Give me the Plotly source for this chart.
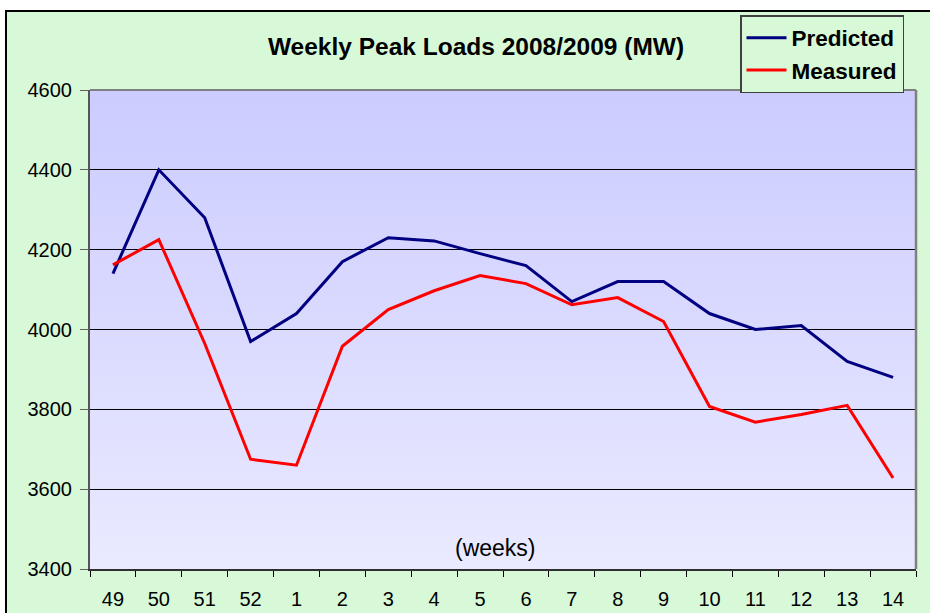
import plotly.graph_objects as go

categories = ["49", "50", "51", "52", "1", "2", "3", "4", "5", "6", "7", "8", "9", "10", "11", "12", "13", "14"]
predicted = [4140, 4400, 4280, 3970, 4040, 4170, 4230, 4222, 4190, 4160, 4070, 4120, 4120, 4040, 4000, 4010, 3920, 3880]
measured = [4162, 4225, 3965, 3675, 3660, 3958, 4050, 4097, 4135, 4115, 4062, 4080, 4020, 3807, 3768, 3787, 3810, 3628]
y_ticks = [3400, 3600, 3800, 4000, 4200, 4400, 4600]

W, H = 930, 613
L, R, T, B = 90, 14, 90, 44
pw, ph = W - L - R, H - T - B


def px(x):
    return (x - L) / pw


def py(y):
    return (H - B - y) / ph


fig = go.Figure()
fig.add_trace(go.Scatter(x=categories, y=predicted, mode="lines", name="Predicted",
                         line=dict(color="#000080", width=3), legendgroup="a"))
fig.add_trace(go.Scatter(x=categories, y=measured, mode="lines", name="Measured",
                         line=dict(color="#FF0000", width=3), legendgroup="b"))

shapes = []
green = "#D8F9D8"
shapes.append(dict(type="rect", xref="paper", yref="paper", x0=px(6), x1=px(960), y0=py(11), y1=py(650),
                   fillcolor=green, line=dict(color="black", width=2), layer="below"))
n = 60
top = (204, 204, 255)
bot = (233, 233, 255)
for i in range(n):
    f = i / (n - 1)
    c = tuple(round(top[k] + (bot[k] - top[k]) * f) for k in range(3))
    y1 = 1 - i / n
    y0 = 1 - (i + 1) / n - 0.002
    shapes.append(dict(type="rect", xref="paper", yref="paper", x0=0, x1=1, y0=max(y0, 0), y1=y1,
                       fillcolor="rgb(%d,%d,%d)" % c, line=dict(width=0), layer="below"))
shapes.append(dict(type="line", xref="paper", yref="paper", x0=0, x1=1, y0=1, y1=1,
                   line=dict(color="#808080", width=2), layer="above"))
shapes.append(dict(type="line", xref="paper", yref="paper", x0=1, x1=1, y0=0, y1=1,
                   line=dict(color="#808080", width=2.5), layer="above"))

fig.update_layout(
    width=W, height=H,
    margin=dict(l=L, r=R, t=T, b=B, autoexpand=False),
    paper_bgcolor="white",
    plot_bgcolor="rgba(0,0,0,0)",
    shapes=shapes,
    title=dict(text="<b>Weekly Peak Loads 2008/2009 (MW)</b>", x=px(476), xref="paper", xanchor="center",
               y=1 - 46 / H, yref="container", yanchor="middle",
               font=dict(family="Liberation Sans, Arial", size=24.5, color="black")),
    legend=dict(x=px(740), y=py(15), xanchor="left", yanchor="top",
                bgcolor=green, bordercolor="#404040", borderwidth=1.5,
                font=dict(family="Liberation Sans, Arial", size=22.5, color="black", weight="bold"),
                tracegroupgap=0, itemwidth=40),
    showlegend=True,
    annotations=[dict(text="(weeks)", xref="paper", yref="paper", x=px(495), y=py(548),
                      xanchor="center", yanchor="middle", showarrow=False,
                      font=dict(family="Liberation Sans, Arial", size=23, color="black"))],
)
fig.update_xaxes(type="category", range=[-0.5, len(categories) - 0.5], showgrid=False,
                 ticks="outside", tickson="boundaries", ticklen=6, tickcolor="black",
                 ticklabelstandoff=11,
                 showline=True, linecolor="#303030", linewidth=1.5,
                 tickfont=dict(family="Liberation Sans, Arial", size=20, color="black"))
fig.update_yaxes(range=[3400, 4600], tickvals=y_ticks, showgrid=True, gridcolor="black", gridwidth=1,
                 ticks="outside", ticklen=8, tickcolor="#606060", zeroline=False,
                 ticklabelstandoff=4,
                 showline=True, linecolor="#555555", linewidth=2,
                 tickfont=dict(family="Liberation Sans, Arial", size=20, color="black"))

fig.write_html("out.html", config={"displayModeBar": False},
               post_script="document.body.style.margin='0';document.body.style.overflow='hidden';")
